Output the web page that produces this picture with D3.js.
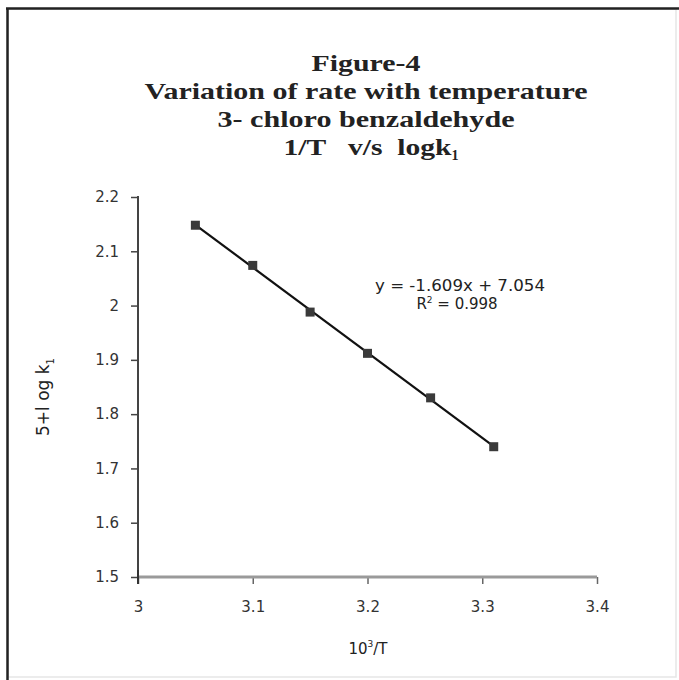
<!DOCTYPE html>
<html><head><meta charset="utf-8">
<script src="https://cdn.jsdelivr.net/npm/d3@7"></script>
<style>body{margin:0;background:#fff}svg{display:block}</style>
</head><body>
<script>
const titleLines = ["Figure-4", "Variation of rate with temperature", "3- chloro benzaldehyde"];
const xValues = [3.05, 3.10, 3.15, 3.20, 3.255, 3.31];
const yValues = [2.148, 2.074, 1.988, 1.912, 1.830, 1.740];
const xTicks = [3, 3.1, 3.2, 3.3, 3.4];
const yTicks = [1.5, 1.6, 1.7, 1.8, 1.9, 2, 2.1, 2.2];
const eqText = "y = -1.609x + 7.054";
const r2Value = "0.998";

const W = 679, H = 680;
const svg = d3.select("body").append("svg").attr("width", W).attr("height", H);
svg.append("rect").attr("width", W).attr("height", H).attr("fill", "#fff");

// frame
svg.append("rect").attr("x", 8).attr("y", 9).attr("width", 668).attr("height", 668)
  .attr("fill", "none").attr("stroke", "#e6e6e6").attr("stroke-width", 1.5);
svg.append("line").attr("x1", 7.5).attr("x2", 7.5).attr("y1", 8).attr("y2", 680).attr("stroke", "#222").attr("stroke-width", 2.5);
svg.append("line").attr("x1", 6).attr("x2", 679).attr("y1", 8.5).attr("y2", 8.5).attr("stroke", "#222").attr("stroke-width", 2.5);

const x = d3.scaleLinear().domain([3, 3.4]).range([138, 597]);
const y = d3.scaleLinear().domain([1.5, 2.2]).range([577, 197]);

// title
const tf = "'Liberation Serif','Times New Roman',serif";
const tY = [71, 99, 127];
const tLen = [109, 443, 297];
titleLines.forEach((t, i) => {
  svg.append("text").attr("x", 366).attr("y", tY[i]).attr("text-anchor", "middle")
    .attr("font-family", tf).attr("font-weight", "bold").attr("font-size", 23)
    .attr("textLength", tLen[i]).attr("lengthAdjust", "spacingAndGlyphs")
    .attr("fill", "#222").text(t);
});
const t4 = svg.append("text").attr("x", 371).attr("y", 155).attr("text-anchor", "middle")
  .attr("font-family", tf).attr("font-weight", "bold").attr("font-size", 23).attr("fill", "#222")
  .attr("xml:space", "preserve");
t4.append("tspan").attr("textLength", 168).attr("lengthAdjust", "spacingAndGlyphs").text("1/T   v/s  logk");
t4.append("tspan").attr("font-size", 14).attr("dy", 5).text("1");

// axes
const tickFont = "'DejaVu Sans',Verdana,sans-serif";
const yAxis = d3.axisLeft(y).tickValues(yTicks).tickSize(7).tickPadding(12).tickFormat(d3.format("~g"));
const gy = svg.append("g").attr("transform", "translate(138,0)").call(yAxis);
gy.select(".domain").remove();
gy.selectAll(".tick line").attr("stroke", "#444").attr("stroke-width", 1.5);
gy.selectAll(".tick text").attr("font-family", tickFont).attr("font-size", 15).attr("fill", "#333");
svg.append("line").attr("x1", 138).attr("x2", 138).attr("y1", 196).attr("y2", 584)
  .attr("stroke", "#444").attr("stroke-width", 2);

const xAxis = d3.axisBottom(x).tickValues(xTicks).tickSize(7).tickPadding(17).tickFormat(d3.format("~g"));
const gx = svg.append("g").attr("transform", "translate(0,577)").call(xAxis);
gx.select(".domain").remove();
gx.selectAll(".tick line").attr("stroke", "#666").attr("stroke-width", 1.5);
gx.selectAll(".tick text").attr("font-family", tickFont).attr("font-size", 15).attr("fill", "#333");
svg.append("line").attr("x1", 138).attr("x2", 597).attr("y1", 577).attr("y2", 577)
  .attr("stroke", "#9a9a9a").attr("stroke-width", 3);
svg.append("line").attr("x1", 138).attr("x2", 138).attr("y1", 570).attr("y2", 584)
  .attr("stroke", "#333").attr("stroke-width", 2);

// axis titles
const xt = svg.append("text").attr("x", 368).attr("y", 654).attr("text-anchor", "middle")
  .attr("font-family", tickFont).attr("font-size", 15).attr("fill", "#222");
xt.append("tspan").text("10");
xt.append("tspan").attr("font-size", 9).attr("dy", -7).text("3");
xt.append("tspan").attr("dy", 7).text("/T");

const yt = svg.append("text").attr("transform", "translate(49,397) rotate(-90)").attr("text-anchor", "middle")
  .attr("font-family", tickFont).attr("font-size", 17).attr("fill", "#222");
yt.append("tspan").text("5+l og k");
yt.append("tspan").attr("font-size", 10).attr("dy", 5).text("1");

// trendline: least-squares fit of the plotted points
const mx = d3.mean(xValues), my = d3.mean(yValues);
const sxy = d3.sum(xValues, (v, i) => (v - mx) * (yValues[i] - my));
const sxx = d3.sum(xValues, v => (v - mx) * (v - mx));
const slope = sxy / sxx, intercept = my - slope * mx;
const xMin = d3.min(xValues), xMax = d3.max(xValues);
svg.append("line")
  .attr("x1", x(xMin)).attr("y1", y(slope * xMin + intercept))
  .attr("x2", x(xMax)).attr("y2", y(slope * xMax + intercept))
  .attr("stroke", "#111").attr("stroke-width", 2.2);

// points
const pts = xValues.map((v, i) => [v, yValues[i]]);
svg.selectAll("rect.pt").data(pts).enter().append("rect").attr("class", "pt")
  .attr("x", d => x(d[0]) - 4.5).attr("y", d => y(d[1]) - 4.5)
  .attr("width", 9).attr("height", 9).attr("fill", "#3a3a3a");

// equation
svg.append("text").attr("x", 460).attr("y", 291).attr("text-anchor", "middle")
  .attr("font-family", tickFont).attr("font-size", 15).attr("fill", "#222")
  .attr("textLength", 170).attr("lengthAdjust", "spacingAndGlyphs").text(eqText);
const r2 = svg.append("text").attr("x", 457).attr("y", 309).attr("text-anchor", "middle")
  .attr("font-family", tickFont).attr("font-size", 15).attr("fill", "#222");
r2.append("tspan").text("R");
r2.append("tspan").attr("font-size", 9).attr("dy", -6).text("2");
r2.append("tspan").attr("dy", 6).text(" = " + r2Value);
</script>
</body></html>
